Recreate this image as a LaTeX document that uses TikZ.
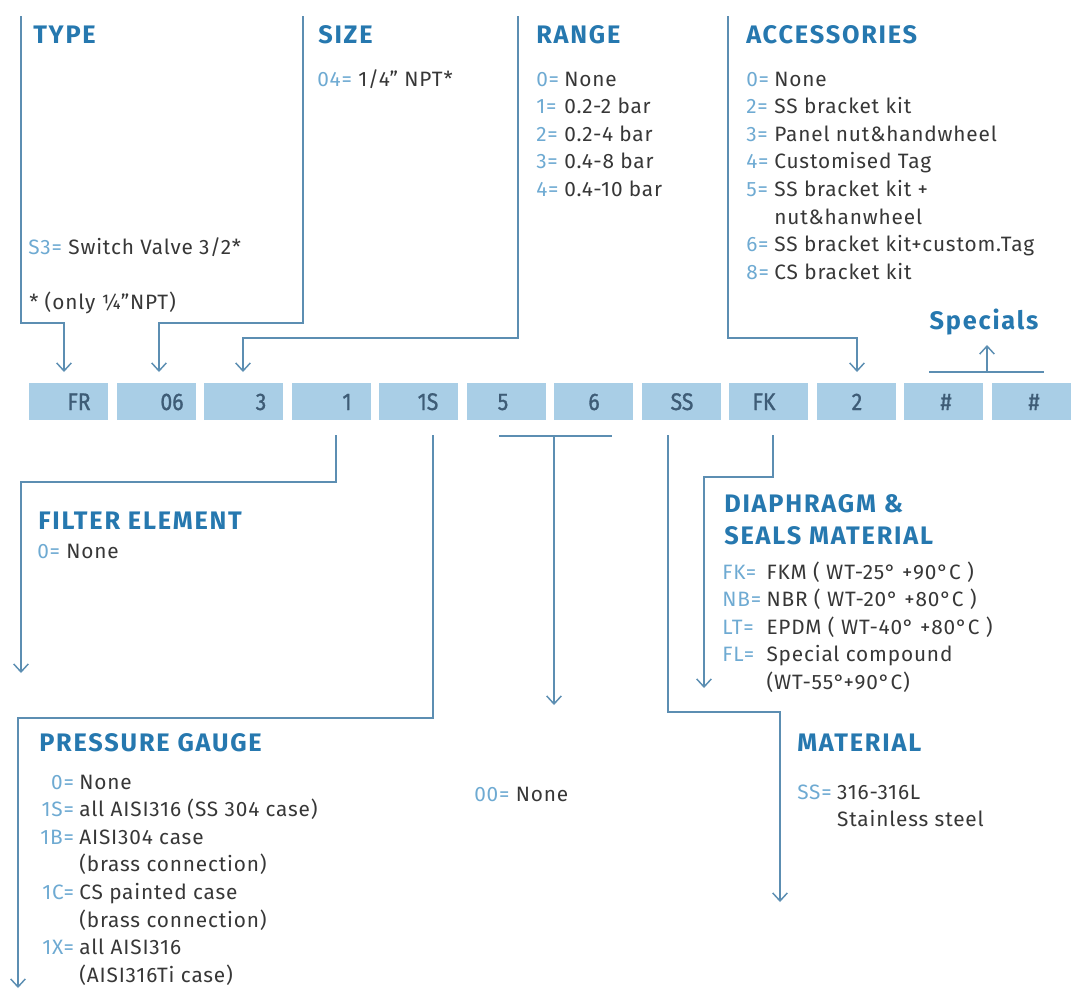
\documentclass[tikz,border=0pt]{standalone}
\usepackage{fontspec}
\setmainfont{Fira Sans}[LetterSpace=4]
\newfontfamily\titlefont[LetterSpace=7]{Fira Sans}
\newfontfamily\boxfont[FakeBold=1.2,FakeStretch=0.88]{Fira Sans}
\usetikzlibrary{arrows.meta}
\definecolor{titleblue}{RGB}{38,120,175}
\definecolor{codeblue}{RGB}{110,170,210}
\definecolor{itemgray}{RGB}{55,55,55}
\definecolor{linecol}{RGB}{92,142,178}
\definecolor{boxfill}{RGB}{169,206,230}
\definecolor{boxtext}{RGB}{62,92,118}
\newcommand{\cd}[1]{\textcolor{codeblue}{#1}}
\begin{document}
\begin{tikzpicture}[x=0.75pt,y=-0.75pt,
  link/.style={draw=linecol, line width=1.3pt},
  arr/.style={link, -{Straight Barb[length=6pt,width=11pt,line width=1.1pt]}},
  codebox/.style={fill=boxfill, draw=none, minimum width=59.25pt, minimum height=27.75pt, inner sep=0pt},
  boxlbl/.style={font=\boxfont\fontsize{18}{18}\selectfont, text=boxtext, inner sep=0pt, anchor=base},
  title/.style={font=\titlefont\bfseries\fontsize{19}{24}\selectfont, text=titleblue, anchor=base west, inner sep=0pt},
  item/.style={font=\fontsize{15.6}{20.7}\selectfont, text=itemgray, anchor=base west, inner sep=0pt},
]
\useasboundingbox (0,0) rectangle (1080,989);

% ---- code boxes
\foreach \i/\cx/\tx/\t in {1/68.5/79/FR, 2/156/172/06, 3/243.5/261/3, 4/331/347/1, 5/418.5/428/1S, 6/506/503/5,
  7/593.5/594/6, 8/681/682/SS, 9/768.5/764/FK, 10/856/857/2, 11/943.5/946/\#, 12/1031/1034/\#}{
  \node[codebox] (b\i) at (\cx,401.5) {};
  \node[boxlbl] (bt\i) at (\tx,410) {\t};
}

% ---- top titles and lists
\node[title] (ttype) at (33,43) {TYPE};
\node[item] (ls3) at (28,254) {\cd{S3=} Switch Valve 3/2*};
\node[item] (lonly) at (29,309) {* (only ¼"NPT)};

\node[title] (tsize) at (318,43) {SIZE};
\node[item] (lsize) at (317,86) {\cd{04=} 1/4" NPT*};

\node[title] (trange) at (536,43) {RANGE};
\node[item] (lrange) at (536,86) {\begin{tabular}[t]{@{}l@{\hspace{4pt}}l@{}}
\cd{0=} & None\\ \cd{1=} & 0.2-2 bar\\ \cd{2=} & 0.2-4 bar\\ \cd{3=} & 0.4-8 bar\\ \cd{4=} & 0.4-10 bar
\end{tabular}};

\node[title] (tacc) at (746,43) {ACCESSORIES};
\node[item] (lacc) at (746,86) {\begin{tabular}[t]{@{}l@{\hspace{4pt}}l@{}}
\cd{0=} & None\\ \cd{2=} & SS bracket kit\\ \cd{3=} & Panel nut\&handwheel\\ \cd{4=} & Customised Tag\\
\cd{5=} & SS bracket kit +\\ & nut\&hanwheel\\ \cd{6=} & SS bracket kit+custom.Tag\\ \cd{8=} & CS bracket kit
\end{tabular}};

\node[title, anchor=base] (tspec) at (984,329) {Specials};

% ---- bottom titles and lists
\node[title] (tfilter) at (38,529) {FILTER ELEMENT};
\node[item] (lfilter) at (37,558) {\cd{0=} None};

\node[title] (tpress) at (39,751) {PRESSURE GAUGE};
\node[item] (lpress) at (40,789) {\begin{tabular}[t]{@{}r@{\hspace{4pt}}l@{}}
\cd{0=} & None\\ \cd{1S=} & all AISI316 (SS 304 case)\\ \cd{1B=} & AISI304 case\\ & (brass connection)\\
\cd{1C=} & CS painted case\\ & (brass connection)\\ \cd{1X=} & all AISI316\\ & (AISI316Ti case)
\end{tabular}};

\node[item] (lnone) at (474,801) {\cd{00=} None};

\node[title] (tdia1) at (724,512) {DIAPHRAGM \&};
\node[title] (tdia2) at (724,544) {SEALS MATERIAL};
\node[item] (ldia) at (722,579) {\begin{tabular}[t]{@{}l@{\hspace{4pt}}l@{}}
\cd{FK=} & FKM ( WT-25° +90°C )\\ \cd{NB=} & NBR ( WT-20° +80°C )\\ \cd{LT=} & EPDM ( WT-40° +80°C )\\
\cd{FL=} & Special compound\\ & (WT-55°+90°C)
\end{tabular}};

\node[title] (tmat) at (797,751) {MATERIAL};
\node[item] (lmat) at (797,799) {\begin{tabular}[t]{@{}l@{\hspace{4pt}}l@{}}
\cd{SS=} & 316-316L\\ & Stainless steel
\end{tabular}};

% ---- connector points
\coordinate (typeTop) at (21,16);   \coordinate (typeBend) at (64,323);  \coordinate (typeTip) at (64,372);
\coordinate (sizeTop) at (303,16);  \coordinate (sizeBend) at (159,323); \coordinate (sizeTip) at (159,372);
\coordinate (rangeTop) at (518,16); \coordinate (rangeBend) at (243,338); \coordinate (rangeTip) at (243,372);
\coordinate (accTop) at (728,16);   \coordinate (accBend) at (857,338);  \coordinate (accTip) at (857,372);
\coordinate (specL) at (929,372);   \coordinate (specR) at (1044,372);
\coordinate (specM) at (987,372);   \coordinate (specTip) at (987,345);

\coordinate (filtTop) at (336,435); \coordinate (filtBend) at (21,482);  \coordinate (filtTip) at (21,673);
\coordinate (pressTop) at (433,435);\coordinate (pressBend) at (18,718); \coordinate (pressTip) at (18,988);
\coordinate (barL) at (499,436);    \coordinate (barR) at (612,436);
\coordinate (barM) at (554,436);    \coordinate (barTip) at (554,705);
\coordinate (matTop) at (668,435);  \coordinate (matBend) at (780,712);  \coordinate (matTip) at (780,902);
\coordinate (diaTop) at (773,435);  \coordinate (diaBend) at (704,477);  \coordinate (diaTip) at (704,688);

% ---- connectors
\draw[arr] (typeTop) |- (typeBend) -- (typeTip);
\draw[arr] (sizeTop) |- (sizeBend) -- (sizeTip);
\draw[arr] (rangeTop) |- (rangeBend) -- (rangeTip);
\draw[arr] (accTop) |- (accBend) -- (accTip);
\draw[link] (specL) -- (specR);
\draw[arr] (specM) -- (specTip);

\draw[arr] (filtTop) |- (filtBend) -- (filtTip);
\draw[arr] (pressTop) |- (pressBend) -- (pressTip);
\draw[link] (barL) -- (barR);
\draw[arr] (barM) -- (barTip);
\draw[arr] (matTop) |- (matBend) -- (matTip);
\draw[arr] (diaTop) |- (diaBend) -- (diaTip);
\end{tikzpicture}
\end{document}
